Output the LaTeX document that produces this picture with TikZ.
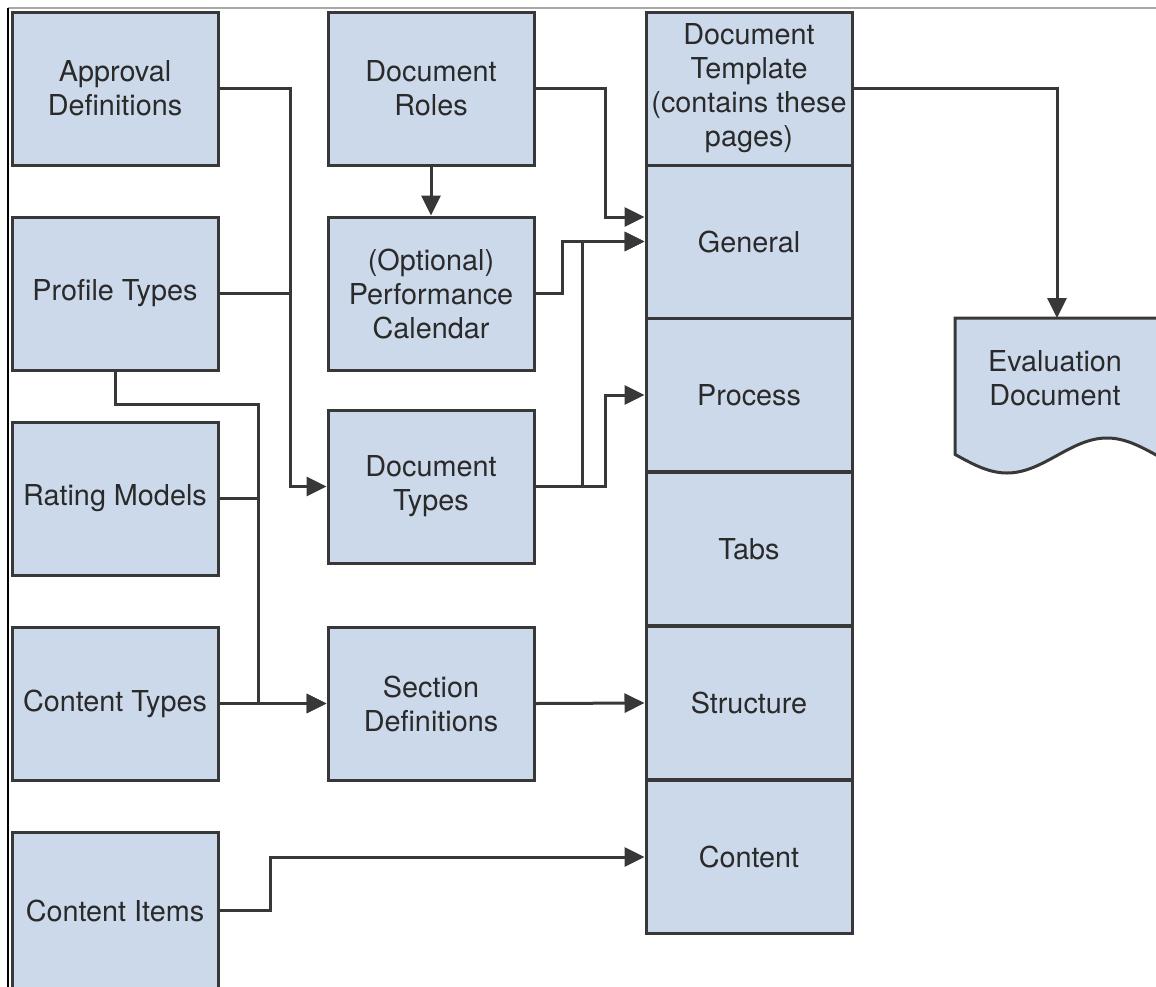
\documentclass[tikz,border=0pt]{standalone}
\usepackage{fontspec}
\setmainfont{TeX Gyre Heros}
\usetikzlibrary{arrows.meta}
\definecolor{boxfill}{HTML}{CCD9EA}
\definecolor{linec}{HTML}{383838}
\definecolor{txt}{HTML}{2A2A2A}
\definecolor{framegray}{HTML}{A8A8A8}
\begin{document}
\begin{tikzpicture}[x=1pt,y=-1pt,
  box/.style={draw=linec, fill=boxfill, line width=3pt, minimum width=206pt,
    minimum height=153pt, align=center, text=txt, inner sep=0pt,
    font=\fontsize{28.8}{34}\selectfont},
  conn/.style={draw=linec, line width=3pt},
  arr/.style={conn, -{Triangle[length=20pt,width=19pt]}}]
\useasboundingbox (0,0) rectangle (1156,986);
\clip (0,0) rectangle (1156,986);
% frame lines
\draw[framegray, line width=2pt] (8,8) -- (1160,8);
\draw[black, line width=1.5pt] (8,8) -- (8,990);

% left column
\node[box] (ad) at (115,88.5) {Approval\\Definitions};
\node[box] (pt) at (115,293.5) {Profile Types};
\node[box] (rm) at (115,498.5) {Rating Models};
\node[box] (ct) at (115,703.5) {Content Types};
\node[box, minimum height=157pt] (ci) at (115,910.5) {Content Items};

% middle column
\node[box] (dr) at (431,88.5) {Document\\Roles};
\node[box] (pc) at (431,293.5) {(Optional)\\Performance\\Calendar};
\node[box] (dt) at (431,486.5) {Document\\Types};
\node[box] (sd) at (431,703.5) {Section\\Definitions};

% right column
\node[box] (tpl) at (749,88.5) {Document\\Template\\(contains these\\pages)};
\node[box] (gen) at (749,241.5) {General};
\node[box] (proc) at (749,395) {Process};
\node[box] (tabs) at (749,549) {Tabs};
\node[box] (st) at (749,703) {Structure};
\node[box] (co) at (749,857) {Content};

% evaluation document
\draw[draw=linec, fill=boxfill, line width=3pt]
  (955,318) -- (1170,318) -- (1170,462)
  -- plot[domain=1170:955, samples=80] (\x, {455.5+17.5*cos(1.8*(\x-1007))})
  -- cycle;
\node[align=center, text=txt, font=\fontsize{28.8}{34}\selectfont] (ev) at (1055,378) {Evaluation\\Document};
\coordinate (evtop) at (1057,318);

% connectors
\draw[arr] (ad.east) -- ++(71,0) |- (dt.west);
\draw[conn] (pt.east) -- ++(71,0);
\draw[arr] (pt.south) -- ++(0,33) -- ++(143,0) |- (sd.west);
\draw[conn] (rm.east) -- ++(40,0);
\draw[arr] (ct.east) -- (sd.west);
\draw[arr] (dr.south) -- (pc.north);
\draw[arr] (dr.east) -- ++(70,0) |- ([yshift=24.5pt]gen.west);
\draw[arr] (pc.east) -- ++(27,0) |- (gen.west);
\draw[arr] (dt.east) -- ++(47,0) |- (gen.west);
\draw[arr] (dt.east) -- ++(70,0) |- (proc.west);
\draw[arr] (sd.east) -- (st.west);
\draw[arr] (ci.east) -- ++(51,0) |- (co.west);
\draw[arr] (tpl.east) -| (evtop);
\end{tikzpicture}
\end{document}
